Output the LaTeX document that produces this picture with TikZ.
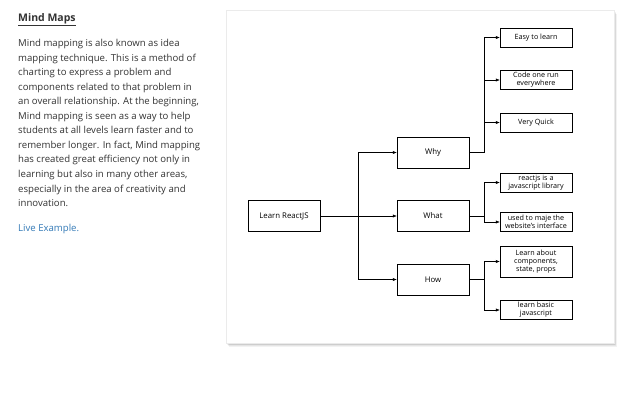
\documentclass[tikz,border=0pt]{standalone}
\usepackage{fontspec}
\setmainfont{Open Sans}
\usetikzlibrary{positioning,arrows.meta}
\definecolor{bodytext}{RGB}{51,51,51}
\definecolor{linkblue}{RGB}{51,122,183}
\begin{document}
\begin{tikzpicture}[x=1pt,y=-1pt,
    box/.style={draw,thin,minimum width=72pt,minimum height=31pt,inner sep=1pt,align=center,font=\fontsize{7.8}{8.6}\selectfont},
    leaf/.style={box,minimum height=19pt,font=\fontsize{7.2}{8}\selectfont},
    link/.style={-{Latex[length=4pt,width=3.2pt]},thin}]
    \useasboundingbox[fill=white](0,0)rectangle(640,400);

    % left column
    \node[anchor=base west,inner sep=0,text=bodytext,font=\fontsize{10.5}{12}\selectfont\bfseries](title)at(18,21){\underline{Mind Maps}};
    \node[anchor=north west,inner sep=0,align=left,text=bodytext,font=\fontsize{9.6}{14.55}\selectfont](body)at(18,39){%
        Mind mapping is also known as idea\\
        mapping technique. This is a method of\\
        charting to express a problem and\\
        components related to that problem in\\
        an overall relationship. At the beginning,\\
        Mind mapping is seen as a way to help\\
        students at all levels learn faster and to\\
        remember longer. In fact, Mind mapping\\
        has created great efficiency not only in\\
        learning but also in many other areas,\\
        especially in the area of creativity and\\
        innovation.};
    \node[anchor=base west,inner sep=0,text=linkblue,font=\fontsize{9.6}{12}\selectfont](live)at(18,231){Live Example.};

    % card with shadow
    \foreach \s in {1,...,5}
        \fill[black,opacity=0.05](226+\s*0.6,10+\s*0.8)rectangle(614+\s*0.6,343+\s*0.8);
    \fill[white,draw=black!8](226,10)rectangle(614,343);

    % mind map
    \node[box](learn)at(284,216){Learn ReactJS};
    \node[box](why)at(433,152.5){Why};
    \node[box](what)at(433,216){What};
    \node[box](how)at(433,279.5){How};

    \node[leaf](easy)at(536,37.5){Easy to learn};
    \node[leaf](code)at(536,80){Code one run\\everywhere};
    \node[leaf](quick)at(536,122.5){Very Quick};
    \node[leaf](lib)at(536,182.5){reactjs is a\\javascript library};
    \node[leaf](used)at(536,222){used to maje the\\website's interface};
    \node[leaf,minimum height=31pt](about)at(536,261.5){Learn about\\components,\\state, props};
    \node[leaf](basic)at(536,310){learn basic\\javascript};

    \coordinate(forka)at(358,216);
    \coordinate(forkb)at(484,216);

    \draw[link](learn.east)--(what.west);
    \draw[link](learn.east-|forka)|-(why.west);
    \draw[link](learn.east-|forka)|-(how.west);

    \draw[link](why.east)--(why.east-|forkb)|-(easy.west);
    \draw[link](why.east-|forkb)|-(code.west);
    \draw[link](why.east-|forkb)|-(quick.west);

    \draw[link](what.east)--(what.east-|forkb)|-(lib.west);
    \draw[link](what.east-|forkb)|-(used.west);

    \draw[link](how.east)--(how.east-|forkb)|-(about.west);
    \draw[link](how.east-|forkb)|-(basic.west);
\end{tikzpicture}
\end{document}
